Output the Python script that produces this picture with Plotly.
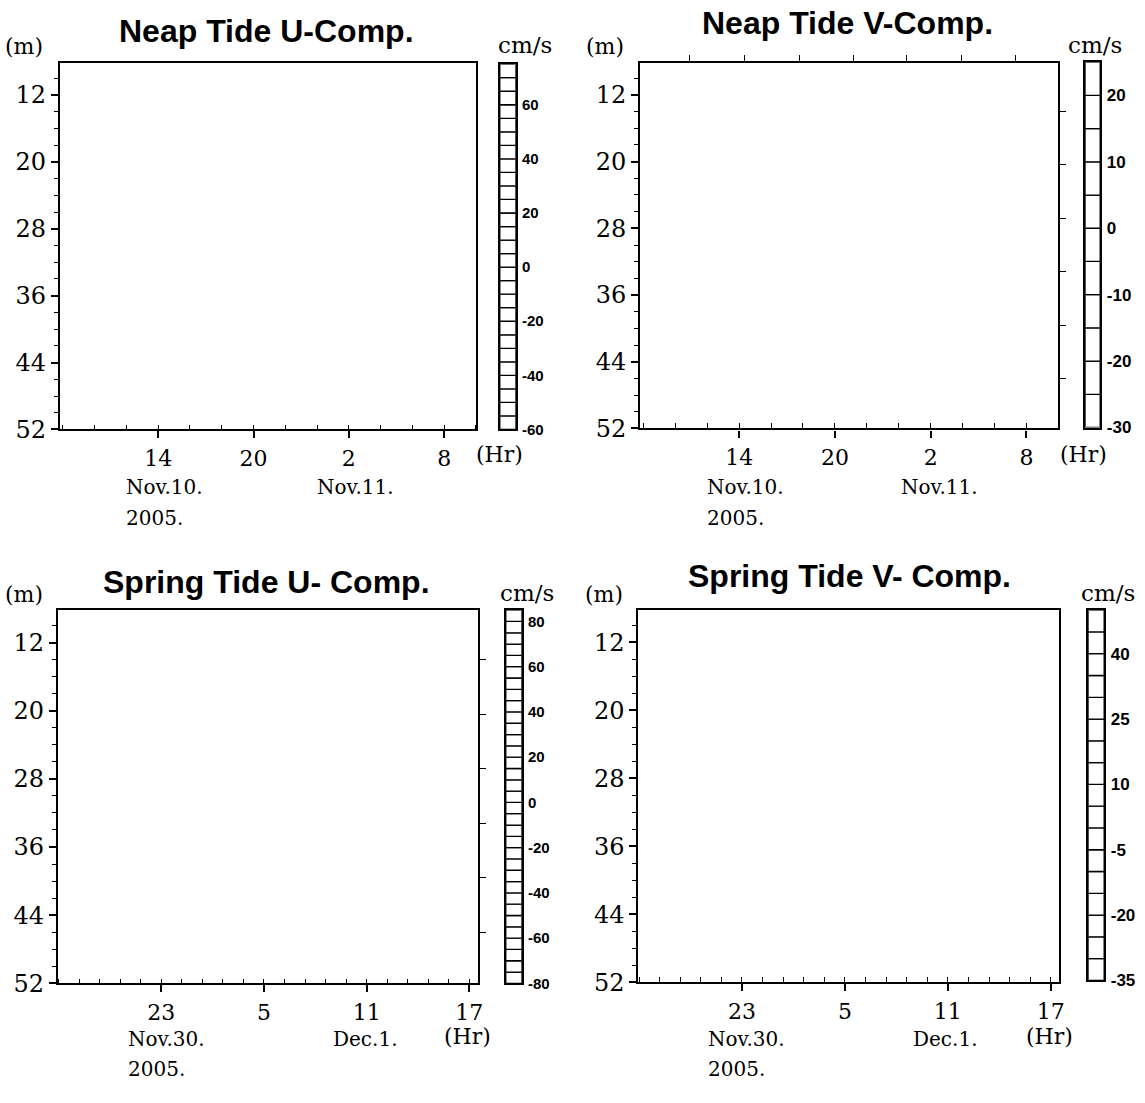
import plotly.graph_objects as go

W, H = 1145, 1103

# ---------------- data ----------------
depth_ticks = [12, 20, 28, 36, 44, 52]
depth_range = [52, 8.2]

neap_hour_ticks = [14, 20, 26, 32]
neap_hour_labels = ["14", "20", "2", "8"]
neap_hour_range = [7.8, 34.0]

spring_hour_ticks = [23, 29, 35, 41]
spring_hour_labels = ["23", "5", "11", "17"]
spring_hour_range = [16.95, 41.5]

# extra (unlabelled) frame ticks
right_depth_marks = [14.0, 20.4, 26.8, 33.2, 39.6, 46.0]
neapV_top_hour_marks = [10.86, 14.35, 17.78, 21.15, 24.5, 27.9, 31.3]

# colour-bar box edges (cm/s) and labels
neapU_edges = [-60, -55, -50, -45, -40, -35, -30, -25, -20, -15, -10, -5, 0,
               5, 10, 15, 20, 25, 30, 35, 40, 45, 50, 55, 60, 65, 70, 75]
neapU_labels = [-60, -40, -20, 0, 20, 40, 60]

neapV_edges = [-30, -25, -20, -15, -10, -5, 0, 5, 10, 15, 20, 25]
neapV_labels = [-30, -20, -10, 0, 10, 20]

springU_edges = [-80, -75, -70, -65, -60, -55, -50, -45, -40, -35, -30, -25,
                 -20, -15, -10, -5, 0, 5, 10, 15, 20, 25, 30, 35, 40, 45, 50,
                 55, 60, 65, 70, 75, 80, 85]
springU_labels = [-80, -60, -40, -20, 0, 20, 40, 60, 80]

springV_edges = [-35, -30, -25, -20, -15, -10, -5, 0, 5, 10, 15, 20, 25, 30,
                 35, 40, 45, 50]
springV_labels = [-35, -20, -5, 10, 25, 40]

titles = ["Neap Tide U-Comp.", "Neap Tide V-Comp.",
          "Spring Tide U- Comp.", "Spring Tide V- Comp."]

# ---------------- layout helpers ----------------
SERIF = "DejaVu Serif"
SANS = "Liberation Sans, Arial"
NARROW = "Liberation Sans Narrow, Liberation Sans, Arial"


def fx(x):
    return x / W


def fy(y):
    return 1 - y / H


panels = [
    dict(box=(60, 478, 64, 435), cb=(502, 518, 65, 435),
         edges=neapU_edges, labels=neapU_labels, cbfont=15,
         hticks=neap_hour_ticks, hlabels=neap_hour_labels, hrange=neap_hour_range,
         minor=dict(dtick=2, tick0=8), right=None, top=None, lw=1.6),
    dict(box=(643, 1063, 64, 434), cb=(1090, 1105, 63, 433),
         edges=neapV_edges, labels=neapV_labels, cbfont=17,
         hticks=neap_hour_ticks, hlabels=neap_hour_labels, hrange=neap_hour_range,
         minor=dict(dtick=2, tick0=8), right=right_depth_marks,
         top=neapV_top_hour_marks, lw=2.2),
    dict(box=(58, 480, 618, 996), cb=(508, 524, 618, 996),
         edges=springU_edges, labels=springU_labels, cbfont=15,
         hticks=spring_hour_ticks, hlabels=spring_hour_labels, hrange=spring_hour_range,
         minor=dict(dtick=1.2, tick0=23), right=right_depth_marks, top=None, lw=1.6),
    dict(box=(641, 1064, 618, 995), cb=(1093, 1109, 618, 993),
         edges=springV_edges, labels=springV_labels, cbfont=17,
         hticks=spring_hour_ticks, hlabels=spring_hour_labels, hrange=spring_hour_range,
         minor=dict(dtick=1.2, tick0=23), right=None, top=None, lw=1.9),
]

fig = go.Figure()
layout = dict(
    width=W, height=H, margin=dict(l=0, r=0, t=0, b=0),
    paper_bgcolor="white", plot_bgcolor="rgba(0,0,0,0)",
    showlegend=False, barmode="overlay",
)

for i, p in enumerate(panels):
    n = i + 1
    x0, x1, y0, y1 = p["box"]
    # main (empty) section panel
    fig.add_trace(go.Scatter(x=[], y=[], xaxis=f"x{n}", yaxis=f"y{n}",
                             mode="markers", hoverinfo="skip"))
    layout[f"xaxis{n}"] = dict(
        domain=[fx(x0), fx(x1)], range=p["hrange"], anchor=f"y{n}",
        tickmode="array", tickvals=p["hticks"], ticktext=p["hlabels"],
        ticks="outside", ticklen=7, tickwidth=1.5, tickcolor="black",
        showline=True, linecolor="black", linewidth=p["lw"], mirror=True,
        showgrid=False, zeroline=False, ticklabelstandoff=1,
        tickfont=dict(family=SERIF, size=22, color="black"),
        minor=dict(ticks="inside", ticklen=5, tickwidth=1.2, tickcolor="black",
                   showgrid=False, dtick=p["minor"]["dtick"],
                   tick0=p["minor"]["tick0"]),
    )
    layout[f"yaxis{n}"] = dict(
        domain=[fy(y1), fy(y0)], range=depth_range, anchor=f"x{n}",
        tickmode="array", tickvals=depth_ticks,
        ticks="outside", ticklen=7, tickwidth=1.5, tickcolor="black",
        showline=True, linecolor="black", linewidth=p["lw"], mirror=True,
        showgrid=False, zeroline=False, ticklabelstandoff=0,
        tickfont=dict(family=SERIF, size=24, color="black"),
        minor=dict(ticks="outside", ticklen=4, tickwidth=1.2, tickcolor="black",
                   showgrid=False, dtick=2, tick0=12),
    )

    # colour bar made of boxes
    c = n + 4
    cx0, cx1, cy0, cy1 = p["cb"]
    edges = p["edges"]
    fig.add_trace(go.Bar(
        x=[0] * (len(edges) - 1),
        y=[b - a for a, b in zip(edges[:-1], edges[1:])],
        base=edges[:-1], width=1,
        marker=dict(color="white", line=dict(color="black", width=1.3)),
        xaxis=f"x{c}", yaxis=f"y{c}", hoverinfo="skip"))
    layout[f"xaxis{c}"] = dict(
        domain=[fx(cx0), fx(cx1)], range=[-0.5, 0.5], anchor=f"y{c}",
        showticklabels=False, ticks="", showgrid=False, zeroline=False,
        showline=True, linecolor="black", linewidth=2.4, mirror=True, fixedrange=True)
    layout[f"yaxis{c}"] = dict(
        domain=[fy(cy1), fy(cy0)], range=[edges[0], edges[-1]], anchor=f"x{c}",
        side="right", tickmode="array", tickvals=p["labels"],
        ticktext=[str(v) for v in p["labels"]], ticks="",
        showgrid=False, zeroline=False, ticklabelstandoff=1,
        showline=True, linecolor="black", linewidth=2.4, mirror=True,
        tickfont=dict(family=NARROW, size=p["cbfont"], color="black",
                      weight="bold"))

    # extra frame ticks on top / right
    if p["right"] is not None or p["top"] is not None:
        s = n + 8
        fig.add_trace(go.Scatter(x=[], y=[], xaxis=f"x{s}", yaxis=f"y{s}",
                                 mode="markers", hoverinfo="skip"))
        layout[f"xaxis{s}"] = dict(
            overlaying=f"x{n}", side="top", range=p["hrange"], anchor=f"y{s}",
            tickmode="array", tickvals=p["top"] or [], showticklabels=False,
            ticks="outside" if p["top"] else "", ticklen=6, tickwidth=1.4,
            tickcolor="black", showgrid=False, zeroline=False,
            showline=True, linecolor="black", linewidth=p["lw"])
        layout[f"yaxis{s}"] = dict(
            overlaying=f"y{n}", side="right", range=depth_range, anchor=f"x{s}",
            tickmode="array", tickvals=p["right"] or [], showticklabels=False,
            ticks="outside" if p["right"] else "", ticklen=6, tickwidth=1.4,
            tickcolor="black", showgrid=False, zeroline=False,
            showline=True, linecolor="black", linewidth=p["lw"])

annotations = []


def ann(text, x, y, size, family=SERIF, xanchor="center", bold=False):
    annotations.append(dict(
        text=f"<b>{text}</b>" if bold else text, x=fx(x), y=fy(y),
        xref="paper", yref="paper", xanchor=xanchor, yanchor="middle",
        showarrow=False, font=dict(family=family, size=size, color="black")))


# titles
ann(titles[0], 268, 31, 32, SANS, bold=True)
ann(titles[1], 851, 23, 32, SANS, bold=True)
ann(titles[2], 268, 589, 32, SANS, bold=True)
ann(titles[3], 853, 583, 32, SANS, bold=True)

# unit labels
for (mx, my), (ux, uy) in [((24, 47), (527, 46)), ((608, 47), (1100, 46)),
                           ((24, 602), (529, 601)), ((607, 602), (1113, 601))]:
    ann("(m)", mx, my, 22)
    ann("cm/s", ux, uy, 23)

ann("(Hr)", 502, 460, 22)
ann("(Hr)", 1088, 460, 22)
ann("(Hr)", 470, 1050, 22)
ann("(Hr)", 1054, 1050, 22)

# date labels
ann("Nov.10.", 125, 493, 20, xanchor="left")
ann("2005.", 125, 525, 20, xanchor="left")
ann("Nov.11.", 316, 493, 20, xanchor="left")

ann("Nov.10.", 708, 493, 20, xanchor="left")
ann("2005.", 708, 525, 20, xanchor="left")
ann("Nov.11.", 903, 493, 20, xanchor="left")

ann("Nov.30.", 127, 1052, 20, xanchor="left")
ann("2005.", 127, 1083, 20, xanchor="left")
ann("Dec.1.", 332, 1052, 20, xanchor="left")

ann("Nov.30.", 709, 1052, 20, xanchor="left")
ann("2005.", 709, 1083, 20, xanchor="left")
ann("Dec.1.", 915, 1052, 20, xanchor="left")

layout["annotations"] = annotations
fig.update_layout(**layout)
fig.write_html("out.html")
